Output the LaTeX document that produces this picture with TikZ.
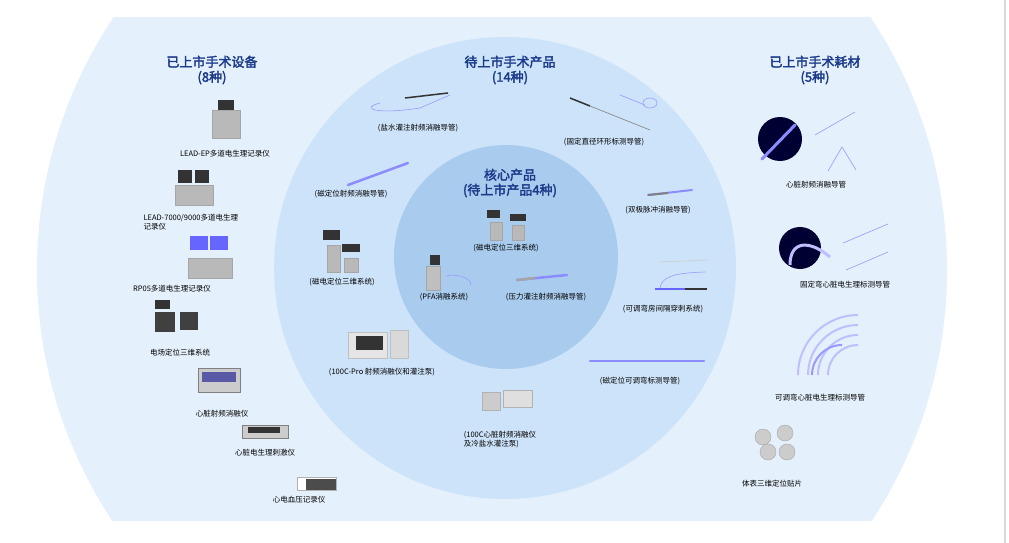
\documentclass[tikz,border=0pt]{standalone}
\usepackage{fontspec}
\setmainfont{Noto Sans CJK SC}[AutoFakeBold=2.5]
\definecolor{outerc}{HTML}{E4F0FC}
\definecolor{midc}{HTML}{CDE3F9}
\definecolor{innc}{HTML}{A9CCEE}
\definecolor{ttlc}{HTML}{1A3A8A}
\begin{document}
\begin{tikzpicture}[x=1pt,y=-1pt,
  ttl/.style={font=\bfseries\fontsize{13}{15}\selectfont,text=ttlc,align=center},
  lbl/.style={font=\fontsize{7.5}{9}\selectfont,text=black,align=left},
  dev/.style={fill=gray!55,draw=gray!70},
  scr/.style={fill=black!80},
  cath/.style={line width=1.6pt,color=blue!45,line cap=round},
  thin/.style={line width=0.6pt,color=blue!40}]
\useasboundingbox (0,0) rectangle (1009,543);
\fill[white] (0,0) rectangle (1009,543);
\draw[gray!30,line width=1.5pt] (1005,0) -- (1005,543);
\begin{scope}
\clip (0,18) rectangle (1009,520);
\fill[outerc] (492,270) circle (455);
\end{scope}
\fill[midc] (505,268) circle (231);
\fill[innc] (506,257) circle (112);
% titles
\node[ttl] (t1) at (212,70) {已上市手术设备\\(8种)};
\node[ttl] (t2) at (510,70) {待上市手术产品\\(14种)};
\node[ttl] (t3) at (815,70) {已上市手术耗材\\(5种)};
\node[ttl] (t4) at (510,183) {核心产品\\(待上市产品4种)};
% left column devices
\fill[dev] (212,110) rectangle (240,138); \fill[scr] (218,100) rectangle (234,110);
\node[lbl] (a1) at (225,154) {LEAD-EP多道电生理记录仪};
\fill[dev] (175,185) rectangle (213,205); \fill[scr] (178,170) rectangle (192,183); \fill[scr] (195,170) rectangle (209,183);
\node[lbl,anchor=west] (a2) at (140,222) {LEAD-7000/9000多道电生理\\记录仪};
\fill[dev] (188,258) rectangle (232,278); \fill[blue!60] (190,236) rectangle (208,250); \fill[blue!60] (210,236) rectangle (228,250);
\node[lbl] (a3) at (172,289) {RP05多道电生理记录仪};
\fill[black!75] (155,312) rectangle (175,332); \fill[black!75] (180,312) rectangle (198,330);\fill[scr] (155,300) rectangle (170,309);
\node[lbl] (a4) at (180,353) {电场定位三维系统};
\fill[gray!40,draw=gray] (198,368) rectangle (240,392); \fill[blue!30!gray] (202,372) rectangle (236,382);
\node[lbl] (a5) at (222,414) {心脏射频消融仪};
\fill[gray!40,draw=gray] (242,425) rectangle (288,438); \fill[scr] (248,427) rectangle (280,433);
\node[lbl] (a6) at (265,453) {心脏电生理刺激仪};
\fill[white,draw=gray!60] (297,477) rectangle (336,490); \fill[black!70] (306,479) rectangle (336,490);
\node[lbl] (a7) at (299,500) {心电血压记录仪};
% middle ring
\draw[thin] (380,103) .. controls (360,108) and (375,115) .. (420,108) -- (450,95);
\draw[line width=1.5pt,black!80] (405,98) -- (448,93);
\node[lbl] (b1) at (418,128) {(盐水灌注射频消融导管)};
\draw[line width=1.5pt,black!80] (570,98) -- (590,106); \draw[thin,gray] (590,106) -- (650,130);
\draw[thin] (620,95) -- (645,105); \draw[thin] (650,103) ellipse (7 and 5);
\node[lbl] (b2) at (604,142) {(固定直径环形标测导管)};
\draw[cath,line width=2.5pt] (348,185) -- (408,163);
\node[lbl] (b3) at (351,194) {(磁定位射频消融导管)};
\fill[dev] (327,245) rectangle (340,272); \fill[dev] (344,258) rectangle (358,272);
\fill[scr] (323,230) rectangle (340,240); \fill[scr] (342,244) rectangle (360,252);
\node[lbl] (b4) at (342,282) {(磁电定位三维系统)};
\fill[gray!20,draw=gray!50] (348,332) rectangle (387,358); \fill[scr] (356,336) rectangle (383,350);
\fill[gray!30,draw=gray!50] (390,330) rectangle (408,358);
\node[lbl] (b5) at (382,372) {(100C-Pro 射频消融仪和灌注泵)};
\draw[cath,line width=2pt] (648,195) -- (692,190); \draw[line width=2pt,gray] (648,195) -- (668,193);
\node[lbl] (b6) at (658,210) {(双极脉冲消融导管)};
\draw[thin,gray!40] (660,262) -- (708,260);
\draw[thin] (660,288) .. controls (662,278) and (670,273) .. (705,272);
\draw[thin,blue!60,line width=1.2pt] (655,289) -- (685,289); \draw[line width=2.5pt,black!80] (685,289) -- (707,289);
\node[lbl] (b7) at (663,309) {(可调弯房间隔穿刺系统)};
\draw[cath,line width=2.5pt,dash pattern=on 8pt off 1pt] (590,361) -- (704,361);
\node[lbl] (b8) at (640,381) {(磁定位可调弯标测导管)};
\fill[gray!40,draw=gray!60] (482,392) rectangle (500,410); \fill[gray!25,draw=gray!60] (503,390) rectangle (532,407);
\node[lbl] (b9) at (500,440) {(100C心脏射频消融仪\\ 及冷盐水灌注泵)};
% core
\fill[dev] (490,222) rectangle (502,240); \fill[dev] (512,225) rectangle (524,240);
\fill[scr] (487,210) rectangle (500,218); \fill[scr] (510,214) rectangle (526,221);
\node[lbl] (c1) at (506,248) {(磁电定位三维系统)};
\fill[gray!50,draw=gray!70] (426,266) rectangle (440,290); \fill[scr] (430,255) rectangle (440,265);
\draw[thin] (446,276) .. controls (460,272) and (475,282) .. (470,285);
\node[lbl] (c2) at (444,297) {(PFA消融系统)};
\draw[cath,line width=2.5pt] (517,280) -- (567,275); \draw[line width=2.5pt,gray!70] (517,280) -- (535,278);
\node[lbl] (c3) at (546,297) {(压力灌注射频消融导管)};
% right column
\fill[black!80!blue] (780,139) circle (22); \draw[cath,line width=3pt] (762,159) -- (795,125);
\draw[thin] (815,135) -- (855,112); \draw[thin] (828,171) -- (842,147) -- (856,170);
\node[lbl] (d1) at (816,185) {心脏射频消融导管};
\fill[black!80!blue] (800,248) circle (21); \draw[thin,line width=3pt,blue!25] (790,265) .. controls (790,240) and (810,240) .. (830,257);
\draw[thin] (843,243) -- (888,224); \draw[thin] (846,270) -- (888,252);
\node[lbl] (d2) at (845,285) {固定弯心脏电生理标测导管};
\foreach \r in {30,40,50,60} \draw[line width=2pt,blue!25] (858-\r,375) arc[start angle=180,end angle=270,radius=\r];
\draw[line width=2pt,blue!40] (812,375) arc[start angle=180,end angle=270,radius=30];
\node[lbl] (d3) at (820,398) {可调弯心脏电生理标测导管};
\foreach \p in {(763,437),(785,433),(768,452),(787,452)} \fill[gray!40,draw=gray!70] \p circle (8);
\node[lbl] (d4) at (772,484) {体表三维定位贴片};
\end{tikzpicture}
\end{document}
